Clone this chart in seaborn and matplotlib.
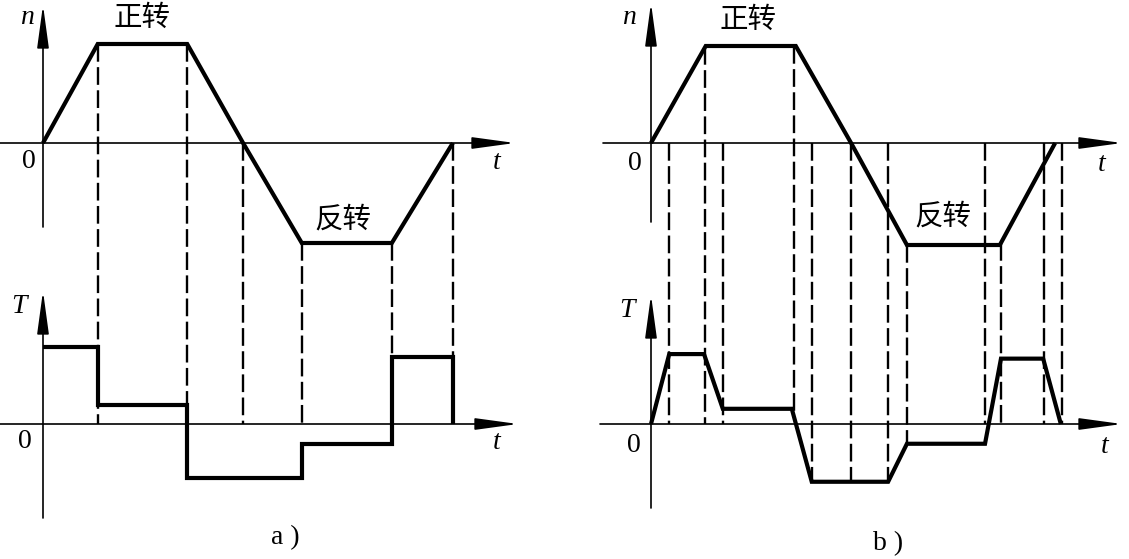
import numpy as np
import matplotlib
matplotlib.use('Agg')
import matplotlib.pyplot as plt
import seaborn as sns

# a) step torque: speed n and torque T against time t
n_a_t = [0, 0.96, 2.53, 3.51, 4.54, 6.12, 7.19]
n_a = [0, 0.99, 0.99, 0, -1.0, -1.0, 0]
T_a_t = [0, 0.96, 2.53, 4.54, 6.12, 7.19, 7.19]
T_a = [1.01, 0.25, -0.71, -0.26, 0.88, 0.88, 0]
dash_a = [0.96, 2.53, 3.51, 4.54, 6.12, 7.19]
dash_a_to_T = [False, False, False, False, False, False]

# b) ramped torque
n_b_t = [0, 0.96, 2.54, 3.51, 4.49, 6.12, 7.09]
n_b = [0, 0.97, 0.97, 0, -1.02, -1.02, 0]
T_b_t = [0, 0.32, 0.93, 1.26, 2.47, 2.82, 4.16, 4.49, 5.86, 6.14, 6.88, 7.19]
T_b = [0, 0.92, 0.92, 0.20, 0.20, -0.76, -0.76, -0.26, -0.26, 0.86, 0.86, 0]
dash_b = [0.32, 0.95, 1.26, 2.51, 2.82, 3.51, 4.16, 4.49, 5.86, 6.14, 6.89, 7.21]
dash_b_to_T = [False, False, False, True, True, True, True, True, False, False, False, False]

fwd_label = '正转'
rev_label = '反转'

# layout (pixels)
W, H = 1129, 559
PX_T = 57.0        # px per time unit
N_BASE = 143       # n axis row
T_OFF = 2.81       # distance n axis -> T axis, in 100 px
T_SCALE = 0.76

sns.set_theme(style='white')
plt.rcParams['font.family'] = ['Liberation Serif', 'DejaVu Serif']

fig = plt.figure(figsize=(W / 100, H / 100), dpi=100)
fig.patch.set_facecolor('white')

LATIN = dict(family=['Liberation Serif'], size=20, color='black', ha='center', va='center')
ITAL = dict(LATIN, style='italic')
CJK = dict(family=['Noto Sans CJK SC'], size=20.5, color='black', ha='center', va='center')


def arrow(ax, x0, y0, x1, y1):
    ax.annotate('', xy=(x1, y1), xytext=(x0, y0),
                arrowprops=dict(arrowstyle='-|>,head_length=2.2,head_width=0.3',
                                color='black', lw=1.2, shrinkA=0, shrinkB=0))


def panel(left_px, right_px, origin_px):
    ax = fig.add_axes([left_px / W, 0, (right_px - left_px) / W, 1])
    ax.set_xlim((left_px - origin_px) / PX_T, (right_px - origin_px) / PX_T)
    ax.set_ylim((N_BASE - H) / 100, N_BASE / 100)
    ax.axis('off')
    return ax


def draw(ax, origin_px, nt, nv, Tt, Tv, dashes, to_T, steps, axes_px, texts):
    px = lambda p: (p - origin_px) / PX_T
    n_left, n_tip, n_low, n_top, T_left, T_tip, T_low, T_top = axes_px
    # axes with arrow heads
    arrow(ax, px(n_left), 0, px(n_tip), 0)
    arrow(ax, 0, (N_BASE - n_low) / 100, 0, (N_BASE - n_top) / 100)
    arrow(ax, px(T_left), -T_OFF, px(T_tip), -T_OFF)
    arrow(ax, 0, (N_BASE - T_low) / 100, 0, (N_BASE - T_top) / 100)

    # dashed guide lines
    Ty = np.array(Tv) * T_SCALE - T_OFF
    for t, tT in zip(dashes, to_T):
        on_corner = np.min(np.abs(np.array(nt) - t)) < 0.06
        top = np.interp(t, nt, nv) if on_corner else 0.0
        bottom = np.interp(t, Tt, Ty) if tT else -T_OFF
        ax.plot([t, t], [top, bottom], color='black', lw=1.7,
                ls=(0, (7.5, 2.3)), dash_capstyle='butt')

    sns.lineplot(x=nt, y=nv, ax=ax, color='black', lw=3.0, estimator=None,
                 sort=False, solid_joinstyle='miter', solid_capstyle='butt')
    kw = dict(drawstyle='steps-post') if steps else {}
    sns.lineplot(x=Tt, y=Ty, ax=ax, color='black', lw=3.0, estimator=None,
                 sort=False, solid_joinstyle='miter', solid_capstyle='butt', **kw)

    for (s, x, y, style) in texts:
        ax.text(px(x), (N_BASE - y) / 100, s, **style)


ax_a = panel(0, 560, 43)
draw(ax_a, 43, n_a_t, n_a, T_a_t, T_a, dash_a, dash_a_to_T, True,
     (0, 515, 227, 5, 0, 518, 518, 291),
     [('n', 27, 17, ITAL), (fwd_label, 142, 18, CJK), ('0', 29, 162, LATIN),
      ('t', 497, 163, ITAL), (rev_label, 343, 219, CJK), ('T', 19, 307, ITAL),
      ('0', 25, 442, LATIN), ('t', 497, 443, ITAL), ('a )', 285, 538, LATIN)])

ax_b = panel(565, 1129, 651)
draw(ax_b, 651, n_b_t, n_b, T_b_t, T_b, dash_b, dash_b_to_T, False,
     (603, 1122, 222, 3, 600, 1122, 508, 295),
     [('n', 629, 18, ITAL), (fwd_label, 748, 20, CJK), ('0', 635, 164, LATIN),
      ('t', 1102, 165, ITAL), (rev_label, 943, 216, CJK), ('T', 627, 311, ITAL),
      ('0', 634, 446, LATIN), ('t', 1105, 447, ITAL), ('b )', 888, 544, LATIN)])

fig.savefig('out.png', dpi=100, facecolor='white')
